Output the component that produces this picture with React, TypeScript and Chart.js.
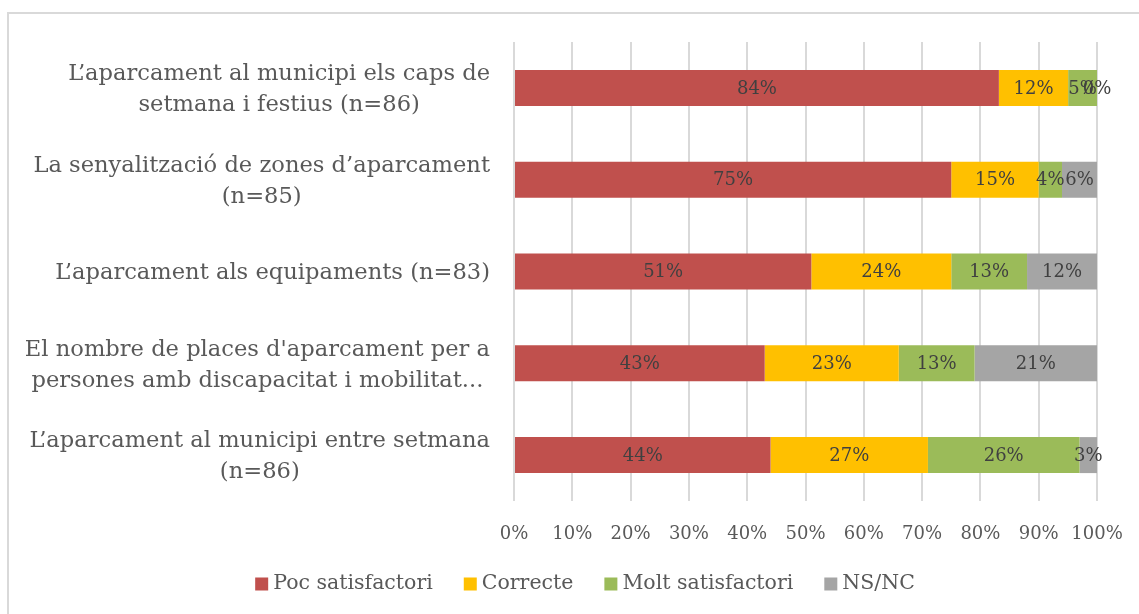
import React, { useEffect, useRef } from "react";
import { Chart, registerables } from "chart.js";

Chart.register(...registerables);

const categories: string[][] = [
  ["L’aparcament al municipi els caps de", "setmana i festius (n=86)"],
  ["La senyalització de zones d’aparcament", "(n=85)"],
  ["L’aparcament als equipaments (n=83)"],
  ["El nombre de places d'aparcament per a", "persones amb discapacitat i mobilitat..."],
  ["L’aparcament al municipi entre setmana", "(n=86)"],
];

const seriesNames = ["Poc satisfactori", "Correcte", "Molt satisfactori", "NS/NC"];
const pocSatisfactori = [84, 75, 51, 43, 44];
const correcte = [12, 15, 24, 23, 27];
const moltSatisfactori = [5, 4, 13, 13, 26];
const nsnc = [0, 6, 12, 21, 3];
const xTickValues = [0, 10, 20, 30, 40, 50, 60, 70, 80, 90, 100];
const colors = ["#C0504D", "#FFC000", "#9BBB59", "#A5A5A5"];

const FONT = "'DejaVu Serif', serif";

export default function App() {
  const ref = useRef<HTMLCanvasElement | null>(null);

  useEffect(() => {
    const canvas = ref.current;
    if (!canvas) return;
    const raw = [pocSatisfactori, correcte, moltSatisfactori, nsnc];
    const totals = categories.map((_, i) => raw.reduce((s, arr) => s + arr[i], 0));

    const dataLabels = {
      id: "dataLabels",
      afterDatasetsDraw(chart: any) {
        const ctx = chart.ctx;
        ctx.save();
        ctx.font = `18px ${FONT}`;
        ctx.fillStyle = "#404040";
        ctx.textAlign = "center";
        ctx.textBaseline = "middle";
        chart.data.datasets.forEach((ds: any, di: number) => {
          const meta = chart.getDatasetMeta(di);
          meta.data.forEach((el: any, i: number) => {
            const v = ds.rawValues[i];
            const cx = (el.x + el.base) / 2;
            ctx.fillText(`${v}%`, cx, el.y + 1);
          });
        });
        ctx.restore();
      },
    };

    const yLabels = {
      id: "yLabels",
      afterDraw(chart: any) {
        const ctx = chart.ctx;
        const ys = chart.scales.y;
        ctx.save();
        ctx.font = `22.6px ${FONT}`;
        ctx.fillStyle = "#595959";
        ctx.textAlign = "center";
        ctx.textBaseline = "middle";
        const lh = 31;
        categories.forEach((lines, i) => {
          const cy = ys.getPixelForValue(i) + 2;
          const maxW = Math.max(...lines.map((l) => ctx.measureText(l).width));
          const cx = 490 - maxW / 2;
          const start = cy - ((lines.length - 1) * lh) / 2;
          lines.forEach((l, k) => ctx.fillText(l, cx, start + k * lh));
        });
        ctx.restore();
      },
    };

    const legend = {
      id: "customLegend",
      afterDraw(chart: any) {
        const ctx = chart.ctx;
        ctx.save();
        ctx.font = `20.5px ${FONT}`;
        ctx.textBaseline = "middle";
        ctx.textAlign = "left";
        const box = 13;
        const gapText = 5;
        const gapItem = 31;
        const widths = seriesNames.map((n) => box + gapText + ctx.measureText(n).width);
        const total = widths.reduce((a, b) => a + b, 0) + gapItem * (seriesNames.length - 1);
        let x = 585 - total / 2;
        const cy = 584;
        seriesNames.forEach((n, i) => {
          ctx.fillStyle = colors[i];
          ctx.fillRect(x, cy - box / 2, box, box);
          ctx.fillStyle = "#595959";
          ctx.fillText(n, x + box + gapText, cy);
          x += widths[i] + gapItem;
        });
        ctx.restore();
      },
    };

    const chart = new Chart(canvas, {
      type: "bar",
      data: {
        labels: categories.map((c) => c.join(" ")),
        datasets: raw.map((arr, di) => ({
          label: seriesNames[di],
          data: arr.map((v, i) => (v / totals[i]) * 100),
          rawValues: arr,
          backgroundColor: colors[di],
          borderWidth: 0,
          barPercentage: 0.392,
          categoryPercentage: 1,
        })) as any,
      },
      options: {
        indexAxis: "y",
        responsive: false,
        animation: false,
        devicePixelRatio: 1,
        layout: { padding: { top: 42, right: 42, left: 0, bottom: 0 } },
        plugins: {
          legend: { display: false },
          tooltip: { enabled: false },
        },
        scales: {
          x: {
            stacked: true,
            min: 0,
            max: 100,
            afterBuildTicks: (s: any) => {
              s.ticks = xTickValues.map((v) => ({ value: v }));
            },
            afterFit: (s: any) => {
              s.height = 113;
              s.paddingLeft = 0;
              s.paddingRight = 0;
            },
            ticks: {
              callback: (v: any) => `${v}%`,
              font: { family: FONT, size: 18 },
              color: "#595959",
              padding: 23,
              maxRotation: 0,
              autoSkip: false,
            },
            grid: { color: "#d9d9d9", lineWidth: 2, drawTicks: false },
            border: { display: false },
          },
          y: {
            stacked: true,
            ticks: { display: false },
            grid: { display: false },
            border: { display: false },
            afterFit: (s: any) => {
              s.width = 514;
            },
          },
        },
      },
      plugins: [dataLabels, yLabels, legend],
    });
    return () => chart.destroy();
  }, []);

  return (
    <div
      style={{
        position: "fixed",
        left: 0,
        top: 0,
        width: 1139,
        height: 614,
        overflow: "hidden",
        background: "#ffffff",
      }}
    >
      <div
        style={{
          position: "absolute",
          left: 7,
          top: 12,
          width: 1200,
          height: 700,
          borderLeft: "2px solid #d9d9d9",
          borderTop: "2px solid #d9d9d9",
        }}
      />
      <canvas
        ref={ref}
        width={1139}
        height={614}
        style={{ position: "absolute", left: 0, top: 0, width: 1139, height: 614 }}
      />
    </div>
  );
}
